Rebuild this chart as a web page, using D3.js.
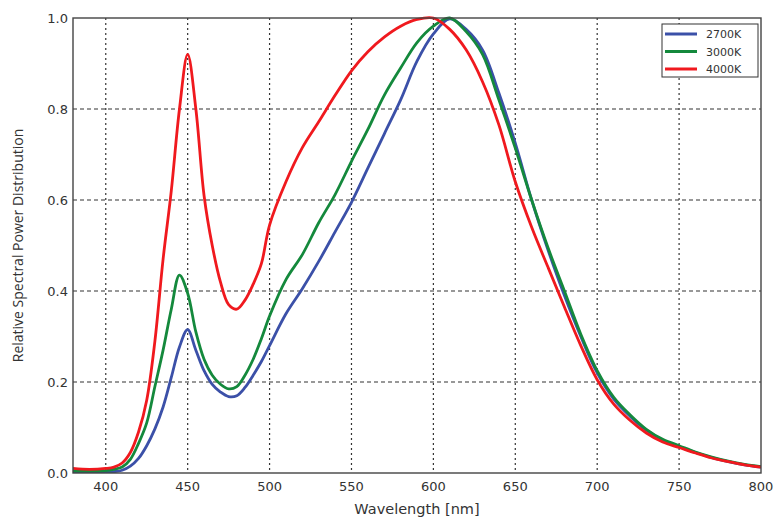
<!DOCTYPE html>
<html>
<head>
<meta charset="utf-8">
<script src="https://cdn.jsdelivr.net/npm/d3@7"></script>
<style>
  body { margin: 0; background: #fff; }
  svg { display: block; font-family: 'DejaVu Sans', sans-serif; }
  .grid line { stroke: #333; stroke-width: 1.2; }
  .tick-label { font-size: 13px; fill: #333; }
</style>
</head>
<body>
<svg id="chart" width="779" height="519"></svg>
<script>
// wavelengths (nm), shared by all three spectra
const wavelengths = [380, 390, 400, 405, 410, 415, 420, 425, 430, 435, 440, 445, 450, 455, 460, 465, 470, 475, 480, 485, 490, 495, 500,
  510, 520, 530, 540, 550, 560, 570, 580, 590, 600, 610, 620, 630, 640, 650, 660, 670, 680, 690, 700,
  710, 720, 730, 740, 750, 760, 770, 780, 790, 800];

const k2700 = [0.003, 0.002, 0.002, 0.003, 0.006, 0.015, 0.032, 0.06, 0.097, 0.145, 0.21, 0.277, 0.315, 0.27, 0.225, 0.195, 0.178, 0.168, 0.17, 0.188, 0.215, 0.245, 0.28,
  0.35, 0.405, 0.465, 0.53, 0.595, 0.67, 0.745, 0.82, 0.905, 0.965, 0.998, 0.975, 0.93, 0.835, 0.725, 0.60, 0.49, 0.39, 0.30, 0.22,
  0.163, 0.125, 0.094, 0.072, 0.058, 0.045, 0.034, 0.025, 0.018, 0.013];

const k3000 = [0.005, 0.004, 0.005, 0.008, 0.013, 0.03, 0.065, 0.11, 0.19, 0.27, 0.36, 0.435, 0.395, 0.31, 0.25, 0.215, 0.195, 0.185, 0.19, 0.215, 0.25, 0.295, 0.345,
  0.425, 0.48, 0.55, 0.612, 0.685, 0.755, 0.83, 0.89, 0.946, 0.982, 1.0, 0.97, 0.92, 0.82, 0.714, 0.60, 0.495, 0.40, 0.305, 0.225,
  0.167, 0.128, 0.096, 0.074, 0.06, 0.046, 0.035, 0.026, 0.019, 0.014];

const k4000 = [0.010, 0.008, 0.010, 0.013, 0.022, 0.045, 0.09, 0.16, 0.29, 0.47, 0.62, 0.80, 0.92, 0.80, 0.61, 0.50, 0.42, 0.37, 0.36, 0.38, 0.415, 0.46, 0.545,
  0.64, 0.715, 0.772, 0.83, 0.884, 0.926, 0.958, 0.982, 0.997, 1.0, 0.975, 0.93, 0.86, 0.765, 0.64, 0.54, 0.452, 0.365, 0.28, 0.205,
  0.152, 0.116, 0.088, 0.068, 0.056, 0.044, 0.033, 0.025, 0.018, 0.013];

const seriesNames = ['2700K', '3000K', '4000K'];
const seriesColors = ['#3b50a8', '#14893c', '#f0191e'];
const xTicks = [400, 450, 500, 550, 600, 650, 700, 750, 800];
const yTicks = [0.0, 0.2, 0.4, 0.6, 0.8, 1.0];

const series = [k2700, k3000, k4000].map((vals, i) => ({
  name: seriesNames[i],
  color: seriesColors[i],
  points: vals.map((v, j) => [wavelengths[j], v])
}));

const mLeft = 73, mRight = 761, mTop = 18, mBottom = 473;

const x = d3.scaleLinear().domain([380, 800]).range([mLeft, mRight]);
const y = d3.scaleLinear().domain([0, 1]).range([mBottom, mTop]);

const svg = d3.select('#chart');

// grid lines
const grid = svg.append('g').attr('class', 'grid');
grid.selectAll('.vg').data(xTicks.filter(d => d < 800)).join('line')
  .attr('class', 'vg')
  .attr('x1', d => x(d)).attr('x2', d => x(d))
  .attr('y1', mTop).attr('y2', mBottom)
  .attr('stroke-dasharray', '2,3');
grid.selectAll('.hg').data(yTicks.filter(d => d > 0 && d < 1)).join('line')
  .attr('class', 'hg')
  .attr('x1', mLeft).attr('x2', mRight)
  .attr('y1', d => y(d)).attr('y2', d => y(d))
  .attr('stroke-dasharray', '4,3');

// curves
const line = d3.line()
  .x(d => x(d[0]))
  .y(d => y(d[1]))
  .curve(d3.curveCatmullRom.alpha(0.5));

const plot = svg.append('g');
plot.append('clipPath').attr('id', 'clip')
  .append('rect').attr('x', mLeft).attr('y', mTop - 2).attr('width', mRight - mLeft).attr('height', mBottom - mTop + 2);

plot.selectAll('path').data(series).join('path')
  .attr('clip-path', 'url(#clip)')
  .attr('d', d => line(d.points))
  .attr('fill', 'none')
  .attr('stroke', d => d.color)
  .attr('stroke-width', 2.8)
  .attr('stroke-linejoin', 'round');

// frame
svg.append('rect')
  .attr('x', mLeft).attr('y', mTop)
  .attr('width', mRight - mLeft).attr('height', mBottom - mTop)
  .attr('fill', 'none').attr('stroke', '#444').attr('stroke-width', 1.4);

// tick labels
svg.append('g').selectAll('text').data(xTicks).join('text')
  .attr('class', 'tick-label')
  .attr('x', d => x(d)).attr('y', 491)
  .attr('text-anchor', 'middle')
  .text(d => d);

svg.append('g').selectAll('text').data(yTicks).join('text')
  .attr('class', 'tick-label')
  .attr('x', 68).attr('y', d => y(d) + 5)
  .attr('text-anchor', 'end')
  .text(d => d3.format('.1f')(d));

// axis titles
svg.append('text')
  .attr('x', (mLeft + mRight) / 2).attr('y', 514)
  .attr('text-anchor', 'middle')
  .attr('font-size', 14.5).attr('fill', '#333')
  .text('Wavelength [nm]');

svg.append('text')
  .attr('transform', `translate(23, ${(mTop + mBottom) / 2}) rotate(-90)`)
  .attr('text-anchor', 'middle')
  .attr('font-family', 'Open Sans, sans-serif')
  .attr('font-size', 14).attr('fill', '#333')
  .text('Relative Spectral Power Distribution');

// legend
const legend = svg.append('g').attr('transform', 'translate(662, 24)');
legend.append('rect')
  .attr('width', 96).attr('height', 53)
  .attr('fill', '#fff').attr('stroke', '#333').attr('stroke-width', 1);
const rows = legend.selectAll('g').data(series).join('g')
  .attr('transform', (d, i) => `translate(0, ${10 + i * 17.5})`);
rows.append('line')
  .attr('x1', 3).attr('x2', 35)
  .attr('stroke', d => d.color).attr('stroke-width', 3);
rows.append('text')
  .attr('x', 44).attr('y', 4)
  .attr('font-size', 11).attr('fill', '#333')
  .text(d => d.name);
</script>
</body>
</html>
